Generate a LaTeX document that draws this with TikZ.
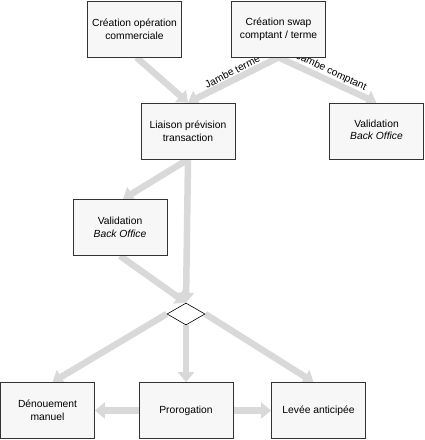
\documentclass[tikz,border=0pt]{standalone}
\usepackage{fontspec}
\setmainfont{Liberation Sans}
\usetikzlibrary{arrows.meta,shapes.geometric,backgrounds}
\definecolor{flowgray}{HTML}{D9D9D9}
\definecolor{boxfill}{HTML}{F7F7F7}
\definecolor{boxline}{HTML}{333333}
\tikzset{
  box/.style={draw=boxline, line width=0.8pt, fill=boxfill, minimum width=94pt, minimum height=56pt,
    inner sep=0pt, align=center, font=\fontsize{10.3}{12.7}\selectfont},
  flow/.style={draw=flowgray, line width=6.5pt, -{Triangle[width=16pt,length=10pt]}},
  flowlabel/.style={font=\fontsize{10.3}{12.7}\selectfont, anchor=south, inner sep=1pt},
  gate/.style={diamond, draw=black, line width=0.6pt, fill=white, minimum width=38pt, minimum height=22pt, inner sep=0pt, aspect=1.7}
}
\begin{document}
\begin{tikzpicture}[x=1pt,y=1pt]
\useasboundingbox (0,0) rectangle (425,-440);
% nodes
\node[box] (b1) at (134.5,-29) {Création opération\\commerciale};
\node[box] (b2) at (278.5,-29) {Création swap\\comptant / terme};
\node[box] (b3) at (188,-131) {Liaison prévision\\transaction};
\node[box] (b4) at (376.5,-131) {\raisebox{7pt}{\begin{tabular}{@{}c@{}}Validation\\\textit{Back Office}\end{tabular}}};
\node[box] (b5) at (120,-227.5) {Validation\\\textit{Back Office}};
\node[box] (b6) at (47.5,-410.5) {Dénouement\\manuel};
\node[box] (b7) at (186,-410.5) {Prorogation};
\node[box] (b8) at (318.5,-410.5) {Levée anticipée};
\node[gate] (d) at (186,-314) {};
% connectors
\begin{scope}[on background layer]
\draw[flow] ([xshift=2pt]b1.south) -- (b3.north);
\draw[flow] (b2.south) -- (b3.north) node[flowlabel, pos=0.47, rotate=26.9] {Jambe terme};
\draw[flow] (b2.south) -- (b4.north) node[flowlabel, pos=0.5, rotate=-25.1] {Jambe comptant};
\draw[flow] (b3.south) -- ([xshift=3pt]b5.north);
\draw[flow] (b3.south) -- (d.north);
\draw[flow] (b5.south) -- (d.north);
\draw[flow] (d.west) -- ([xshift=5pt]b6.north);
\draw[flow] (d.south) -- (b7.north);
\draw[flow] (d.east) -- ([xshift=-5pt]b8.north);
\draw[flow] (b7.west) -- (b6.east);
\draw[flow] (b7.east) -- (b8.west);
\end{scope}
\end{tikzpicture}
\end{document}
